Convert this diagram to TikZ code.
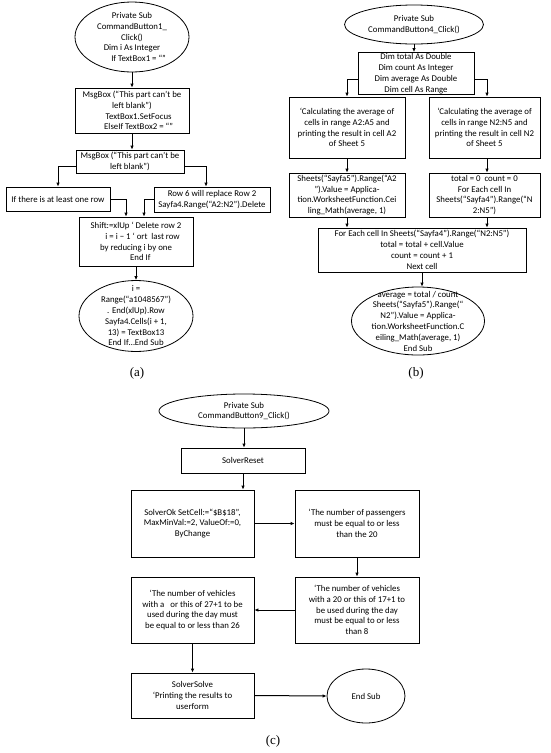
\documentclass[tikz,border=0pt]{standalone}
\usepackage{fontspec}
\setmainfont{Carlito}
\newfontfamily\capfont{Liberation Serif}
\usetikzlibrary{shapes.geometric,arrows.meta}

\tikzset{every picture/.style={line width=0.75pt}}
\tikzset{
  box/.style={draw, rectangle, align=center, inner sep=1pt, line width=0.8pt},
  oval/.style={draw, ellipse, inner sep=0pt, line width=0.8pt},
  txt/.style={align=center, inner sep=0pt},
  arr/.style={-{Latex[length=4pt,width=3.5pt]}, line width=1pt},
  lbl/.style={font=\capfont\fontsize{13}{15}\selectfont, inner sep=0pt},
}

\begin{document}
\begin{tikzpicture}[x=1pt,y=1pt,yscale=-1,xscale=1,font=\fontsize{8.8}{10.8}\selectfont]
		\useasboundingbox (0,0) rectangle (550,753);

		%%% (a)
		%Shape: Ellipse
		\node [oval, minimum width=114pt, minimum height=70pt] (startA) at (132,37) {};
		\node [txt] (startAtxt) at (startA.center) {Private Sub\\CommandButton1\_\\Click()\\Dim i As Integer\\\hspace{1.5em}If TextBox1 = “”};
		%Shape: Rectangle
		\node [box, minimum width=114pt, minimum height=45pt] (msgA) at (132,110.5) {MsgBox (“This part can’t be\\left blank”)\\\hspace{1.5em}TextBox1.SetFocus\\\hspace{1.5em}ElseIf TextBox2 = “”};
		\node [box, minimum width=108pt, minimum height=23pt] (msgB) at (130,161.5) {MsgBox (“This part can’t be\\left blank”)};
		\node [box, minimum width=104pt, minimum height=24pt] (rowA) at (58,199) {If there is at least one row};
		\node [box, minimum width=116pt, minimum height=25pt] (rowB) at (212,199.5) {Row 6 will replace Row 2\\Sayfa4.Range(“A2:N2”).Delete};
		\node [box, minimum width=114pt, minimum height=49pt] (shiftA) at (136,241.5) {Shift:=xlUp ‘ Delete row 2\\\hspace{1.5em}i = i − 1 ‘ ort\ \ last row\\by reducing i by one\\\hspace{1em}End If};
		%Shape: Ellipse
		\node [oval, minimum width=114pt, minimum height=71pt] (endA) at (136,316) {};
		\node [txt] (endAtxt) at (endA.center) {i =\\Range(“a1048567”)\\. End(xlUp).Row\\Sayfa4.Cells(i + 1,\\13) = TextBox13\\End If…End Sub};

		%Straight Lines
		\draw [arr] (startA.south) -- (msgA.north);
		\draw [arr] (msgA.south) -- (msgA.south |- msgB.north);
		\draw [arr] ([yshift=5pt]msgB.west) -| (rowA.north);
		\draw [arr] ([yshift=5pt]msgB.east) -| ([xshift=-6pt]rowB.north);
		\draw [arr] (rowA.east) -| ([xshift=-10pt]shiftA.north);
		\draw [arr] (rowB.west) -| ([xshift=8pt]shiftA.north);
		\draw [arr] (shiftA.south) -- (endA.north);

		% Text Node
		\node [lbl] (capA) at (137,373) {(a)};

		%%% (b)
		%Shape: Ellipse
		\node [oval, minimum width=139pt, minimum height=39pt] (startB) at (414,24.5) {};
		\node [txt] (startBtxt) at (startB.center) {Private Sub\\CommandButton4\_Click()};
		%Shape: Rectangle
		\node [box, minimum width=116pt, minimum height=37pt] (dimB) at (416,73.5) {Dim total As Double\\Dim count As Integer\\Dim average As Double\\Dim cell As Range};
		\node [box, minimum width=116pt, minimum height=61pt] (calcA) at (347,127.5) {‘Calculating the average of\\cells in range A2:A5 and\\printing the result in cell A2\\of Sheet 5};
		\node [box, minimum width=111pt, minimum height=61pt] (calcN) at (484.5,127.5) {‘Calculating the average of\\cells in range N2:N5 and\\printing the result in cell N2\\of Sheet 5};
		\node [box, minimum width=116pt, minimum height=44pt] (sheetA) at (347,195) {Sheets(“Sayfa5”).Range(“A2\\”).Value = Applica-\\tion.WorksheetFunction.Cei\\ling\_Math(average, 1)};
		\node [box, minimum width=111pt, minimum height=44pt] (sheetN) at (484.5,195) {total = 0\ \ count = 0\\For Each cell In\\Sheets(“Sayfa4”).Range(“N\\2:N5”)};
		\node [box, minimum width=208pt, minimum height=44pt] (loopB) at (422,250) {For Each cell In Sheets(“Sayfa4”).Range(“N2:N5”)\\total = total + cell.Value\\count = count + 1\\Next cell};
		%Shape: Ellipse
		\node [oval, minimum width=133pt, minimum height=68pt] (endB) at (418,321) {};
		\node [txt] (endBtxt) at (endB.center) {average = total / count\\Sheets(“Sayfa5”).Range(“\\N2”).Value = Applica-\\tion.WorksheetFunction.C\\eiling\_Math(average, 1)\\End Sub};

		%Straight Lines
		\draw [arr] (startB.south) -- (startB.south |- dimB.north);
		\draw [arr] ([yshift=6pt]dimB.west) -| (calcA.north);
		\draw [arr] ([yshift=6pt]dimB.east) -| ([xshift=2.5pt]calcN.north);
		\draw [arr] (calcA.south) -- (sheetA.north);
		\draw [arr] ([xshift=2.5pt]calcN.south) -- ([xshift=2.5pt]sheetN.north);
		\draw [arr] (sheetA.south) -- (sheetA.south |- loopB.north);
		\draw [arr] ([xshift=2.5pt]sheetN.south) -- ([xshift=2.5pt]sheetN.south |- loopB.north);
		\draw [arr] (loopB.south) -- (loopB.south |- endB.north);

		% Text Node
		\node [lbl] (capB) at (416,373) {(b)};

		%%% (c)
		%Shape: Ellipse
		\node [oval, minimum width=170pt, minimum height=34pt] (startC) at (244,411) {};
		\node [txt] (startCtxt) at (startC.center) {Private Sub\\CommandButton9\_Click()};
		%Shape: Rectangle
		\node [box, minimum width=124pt, minimum height=25pt] (resetC) at (243,460.5) {SolverReset};
		\node [box, minimum width=123pt, minimum height=67pt] (okC) at (192.5,523.5) {SolverOk SetCell:=“\$B\$18”,\\MaxMinVal:=2, ValueOf:=0,\\ByChange};
		\node [box, minimum width=124pt, minimum height=67pt] (passC) at (357,523.5) {‘The number of passengers\\must be equal to or less\\than the 20};
		\node [box, minimum width=124pt, minimum height=66pt] (vehN) at (357,610) {‘The number of vehicles\\with a 20 or this of 17+1 to\\be used during the day\\must be equal to or less\\than 8};
		\node [box, minimum width=123pt, minimum height=66pt] (vehM) at (192.5,610) {‘The number of vehicles\\with a\ \ \ or this of 27+1 to be\\used during the day must\\be equal to or less than 26};
		\node [box, minimum width=123pt, minimum height=45pt] (solveC) at (192.5,695.5) {SolverSolve\\‘Printing the results to\\userform};
		%Shape: Ellipse
		\node [oval, minimum width=78pt, minimum height=54pt] (endC) at (366,696) {End Sub};

		%Straight Lines
		\draw [arr] (startC.south) -- (startC.south |- resetC.north);
		\draw [arr] (resetC.south) -- (resetC.south |- okC.north);
		\draw [arr] (okC.east) -- (passC.west);
		\draw [arr] (passC.south) -- (vehN.north);
		\draw [arr] (vehN.west) -- (vehM.east);
		\draw [arr] (vehM.south) -- (solveC.north);
		\draw [arr] (solveC.east) -- (endC.west);

		% Text Node
		\node [lbl] (capC) at (273,741) {(c)};
	\end{tikzpicture}
\end{document}
